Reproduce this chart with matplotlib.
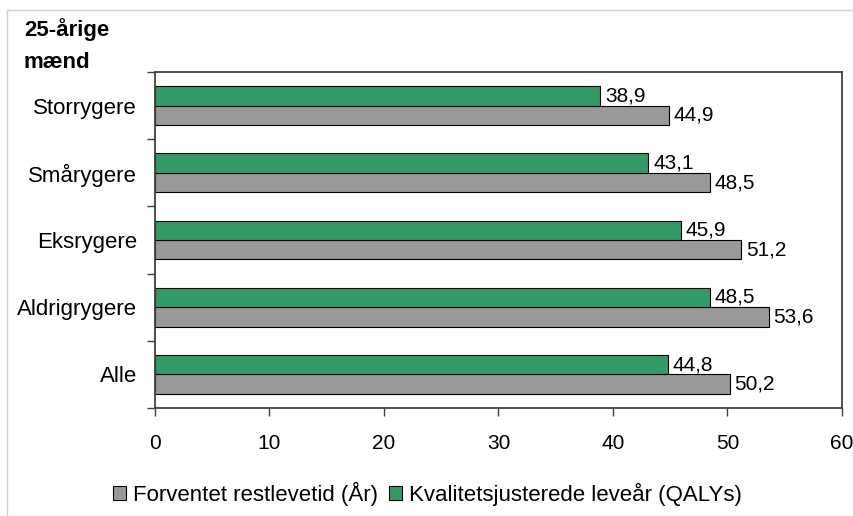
import matplotlib.pyplot as plt
import numpy as np

plt.rcParams['font.family'] = ['Liberation Sans', 'DejaVu Sans']

categories = ['Alle', 'Aldrigrygere', 'Eksrygere', 'Smårygere', 'Storrygere']
restlevetid = [50.2, 53.6, 51.2, 48.5, 44.9]
qalys = [44.8, 48.5, 45.9, 43.1, 38.9]
series_names = ['Forventet restlevetid (År)', 'Kvalitetsjusterede leveår (QALYs)']

green = '#339966'
grey = '#999999'

fig = plt.figure(figsize=(8.54, 5.16), dpi=100)
ax = fig.add_axes([155/854, 1 - 408/516, (842-155)/854, (408-72)/516])

y = np.arange(len(categories))
h = 0.29
b1 = ax.barh(y - h/2, restlevetid, height=h, color=grey, edgecolor='black', linewidth=0.8, label=series_names[0])
b2 = ax.barh(y + h/2, qalys, height=h, color=green, edgecolor='black', linewidth=0.8, label=series_names[1])

for bars, vals in [(b1, restlevetid), (b2, qalys)]:
    for bar, v in zip(bars, vals):
        ax.text(v + 0.4, bar.get_y() + bar.get_height()/2, ('%.1f' % v).replace('.', ','),
                va='center', ha='left', fontsize=15)

ax.set_xlim(0, 60)
ax.set_ylim(-0.5, len(categories) - 0.5)
ax.set_xticks(range(0, 61, 10))
ax.set_yticks(y)
ax.set_yticklabels(categories)
ax.set_yticks(np.arange(-0.5, len(categories)), minor=True)
ax.tick_params(axis='y', which='major', length=0, pad=13, labelsize=16)
ax.tick_params(axis='y', which='minor', length=6, width=1, color='#404040')
ax.tick_params(axis='x', length=6, width=1, color='#404040', pad=13, labelsize=15)
for s in ax.spines.values():
    s.set_color('#404040')
    s.set_linewidth(1.3)

fig.text(24/854, 1 - 30/516, '25-årige', fontsize=16, fontweight='bold', ha='left', va='center')
fig.text(24/854, 1 - 62/516, 'mænd', fontsize=16, fontweight='bold', ha='left', va='center')

fig.legend(handles=[b1, b2], labels=series_names, loc='center', bbox_to_anchor=(0.5, 1 - 494/516),
           ncol=2, frameon=False, fontsize=16, handlelength=0.6, handleheight=0.6,
           handletextpad=0.3, columnspacing=0.5)

border = plt.Rectangle((7/854, -0.01), 1.0, 1 - 10/516 + 0.01, transform=fig.transFigure,
                       fill=False, edgecolor='#d0d0d0', linewidth=1)
fig.add_artist(border)

fig.savefig('out.png', dpi=100)
